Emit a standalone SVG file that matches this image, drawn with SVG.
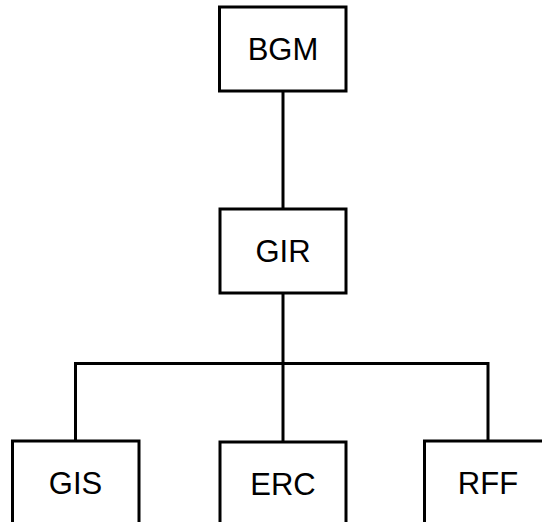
<svg xmlns="http://www.w3.org/2000/svg" width="542" height="522" viewBox="0 0 542 522">
<style>
.box{fill:#fff;stroke:#000;stroke-width:3}
.lbl{font-family:"Liberation Sans",Arial,sans-serif;font-size:31px;text-anchor:middle;fill:#000}
.conn{fill:none;stroke:#000;stroke-width:3}
</style>
<rect width="542" height="522" fill="#fff"/>
<g id="connectors">
<line class="conn" x1="283" y1="91" x2="283" y2="209"/>
<line class="conn" x1="283" y1="293" x2="283" y2="442"/>
<polyline class="conn" points="75.5,441 75.5,363.5 488,363.5 488,441"/>
</g>
<g id="BGM"><rect class="box" x="219.5" y="7" width="126.5" height="84"/><text class="lbl" x="283" y="60">BGM</text></g>
<g id="GIR"><rect class="box" x="220" y="209" width="126" height="84"/><text class="lbl" x="283" y="262">GIR</text></g>
<g id="GIS"><rect class="box" x="12.5" y="441" width="126.5" height="84"/><text class="lbl" x="75.5" y="494">GIS</text></g>
<g id="ERC"><rect class="box" x="220" y="442" width="126" height="84"/><text class="lbl" x="283" y="495">ERC</text></g>
<g id="RFF"><rect class="box" x="424.5" y="441" width="127" height="84"/><text class="lbl" x="488" y="494">RFF</text></g>
</svg>
